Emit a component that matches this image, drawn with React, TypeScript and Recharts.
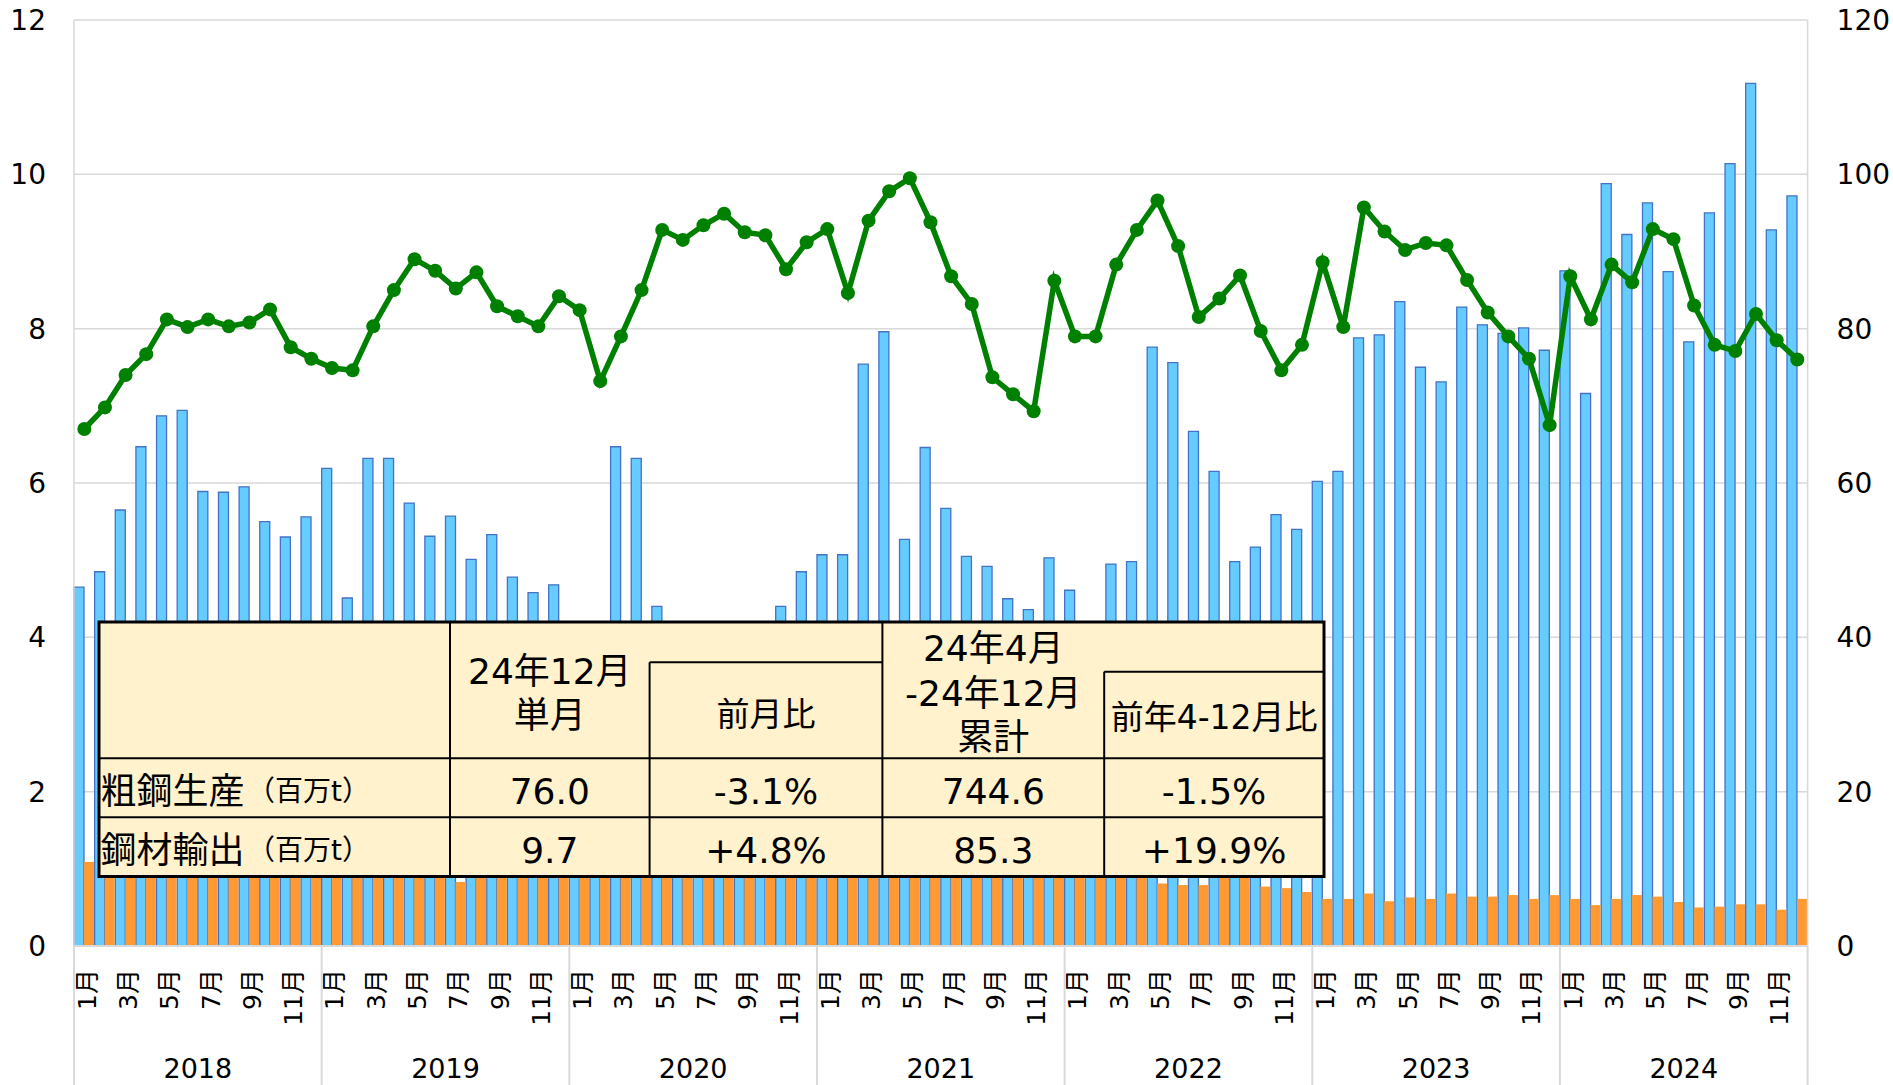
import React from 'react';
import { ComposedChart, Bar, Line, XAxis, YAxis, CartesianGrid } from 'recharts';

const FONT = "'DejaVu Sans', 'Noto Sans CJK JP', sans-serif";

const years = ['2018', '2019', '2020', '2021', '2022', '2023', '2024'];
const months = ['1月', '2月', '3月', '4月', '5月', '6月', '7月', '8月', '9月', '10月', '11月', '12月'];

// 鋼材輸出 (百万t) - left axis, blue bars
const exportsMt = [
  4.65, 4.85, 5.65, 6.47, 6.87, 6.94, 5.89, 5.88, 5.95, 5.50, 5.30, 5.56,
  6.19, 4.51, 6.32, 6.32, 5.74, 5.31, 5.57, 5.01, 5.33, 4.78, 4.58, 4.68,
  4.10, 4.10, 6.47, 6.32, 4.40, 3.70, 3.73, 3.69, 3.79, 3.87, 4.40, 4.85,
  5.07, 5.07, 7.54, 7.96, 5.27, 6.46, 5.67, 5.05, 4.92, 4.50, 4.36, 5.03,
  4.61, 4.10, 4.95, 4.98, 7.76, 7.56, 6.67, 6.15, 4.98, 5.17, 5.59, 5.40,
  6.02, 6.15, 7.88, 7.92, 8.35, 7.50, 7.31, 8.28, 8.05, 7.94, 8.01, 7.72,
  8.75, 7.16, 9.88, 9.22, 9.63, 8.74, 7.83, 9.50, 10.14, 11.18, 9.28, 9.72,
];

// 鋼材輸入 (百万t) - left axis, orange bars
const importsMt = [
  1.09, 1.10, 1.20, 1.15, 1.15, 1.10, 1.20, 1.10, 1.10, 1.00, 1.00, 1.00,
  1.10, 1.10, 1.20, 1.00, 1.05, 1.00, 0.83, 1.00, 1.10, 1.00, 1.15, 1.10,
  1.00, 1.00, 1.00, 1.10, 1.30, 1.90, 2.40, 2.00, 2.20, 1.80, 1.40, 1.40,
  1.30, 1.30, 1.20, 1.30, 1.20, 1.20, 1.20, 1.10, 1.20, 1.10, 1.10, 1.10,
  1.00, 1.00, 1.00, 0.95, 0.81, 0.79, 0.79, 0.92, 0.93, 0.77, 0.75, 0.70,
  0.61, 0.61, 0.68, 0.58, 0.63, 0.61, 0.68, 0.64, 0.64, 0.66, 0.61, 0.66,
  0.61, 0.53, 0.61, 0.66, 0.64, 0.57, 0.50, 0.51, 0.54, 0.54, 0.47, 0.61,
];

// 粗鋼生産 (百万t) - right axis, green line
const productionMt = [
  67.0, 69.8, 74.0, 76.7, 81.2, 80.2, 81.2, 80.3, 80.8, 82.5, 77.6, 76.1,
  74.9, 74.6, 80.3, 85.0, 89.0, 87.5, 85.2, 87.3, 82.9, 81.6, 80.3, 84.2,
  82.4, 73.2, 79.0, 85.0, 92.8, 91.5, 93.4, 94.9, 92.5, 92.1, 87.7, 91.2,
  92.9, 84.6, 94.0, 97.8, 99.5, 93.8, 86.8, 83.2, 73.7, 71.5, 69.3, 86.2,
  79.0, 79.0, 88.3, 92.8, 96.6, 90.7, 81.5, 83.9, 86.9, 79.7, 74.6, 77.9,
  88.6, 80.2, 95.7, 92.6, 90.2, 91.1, 90.8, 86.3, 82.1, 79.0, 76.1, 67.5,
  86.8, 81.2, 88.3, 86.0, 92.9, 91.6, 83.0, 77.9, 77.1, 81.9, 78.5, 76.0,
];

const leftTicks = [0, 2, 4, 6, 8, 10, 12];
const rightTicks = [0, 20, 40, 60, 80, 100, 120];

// summary table
const tableRowLabels = ['粗鋼生産', '鋼材輸出'];
const tableUnit = '（百万t）';
const tableValues = [
  ['76.0', '-3.1%', '744.6', '-1.5%'],
  ['9.7', '+4.8%', '85.3', '+19.9%'],
];

const data = years.flatMap((y, yi) =>
  months.map((m, mi) => {
    const i = yi * 12 + mi;
    return {
      key: `${y}-${mi + 1}`,
      year: y,
      month: m,
      monthNo: mi + 1,
      idx: i,
      exp: exportsMt[i],
      imp: importsMt[i],
      prod: productionMt[i],
    };
  })
);

const GRID = '#D9D9D9';
const AXIS_H = 139;

const MonthTick = (props: any) => {
  const { x, y, payload } = props;
  const d = data.find((r) => r.key === payload.value);
  if (!d) return null;
  const half = payload.offset && payload.offset > 0 ? payload.offset : 10.32;
  const isLast = d.idx === data.length - 1;
  return (
    <g>
      {d.monthNo % 2 === 1 && (
        <text
          transform={`translate(${x + 3},${y + 23}) rotate(-90)`}
          textAnchor="end"
          dominantBaseline="central"
          fontSize={25}
          fill="#000"
          fontFamily={FONT}
        >
          {d.month}
        </text>
      )}
      {d.monthNo === 1 && (
        <line x1={x - half} x2={x - half} y1={y} y2={y + AXIS_H} stroke={GRID} strokeWidth={2} />
      )}
      {isLast && (
        <line x1={x + half} x2={x + half} y1={y} y2={y + AXIS_H} stroke={GRID} strokeWidth={2} />
      )}
      {d.monthNo === 7 && (
        <text
          x={x - half}
          y={y + 122}
          textAnchor="middle"
          dominantBaseline="central"
          fontSize={27}
          fill="#000"
          fontFamily={FONT}
        >
          {d.year}
        </text>
      )}
    </g>
  );
};

const SummaryTable = () => {
  const x0 = 99, x1 = 450, x2 = 649.6, x3 = 882.4, x4 = 1104.2, x5 = 1324;
  const y0 = 622, ySubA = 662.3, ySubB = 671.7, y1 = 758.3, y2 = 817.3, y3 = 876.5;
  const colCenters = [(x1 + x2) / 2, (x2 + x3) / 2, (x3 + x4) / 2, (x4 + x5) / 2];
  const rowCenters = [791.7, 850];
  const inner = { stroke: '#000', strokeWidth: 2 };
  const txt = { fill: '#000', fontFamily: FONT, dominantBaseline: 'central' as const };
  return (
    <svg
      width={1893}
      height={1085}
      style={{ position: 'absolute', left: 0, top: 0, pointerEvents: 'none' }}
    >
      <rect x={x0} y={y0} width={x5 - x0} height={y3 - y0} fill="#FFF2CC" />
      <line x1={x0} x2={x5} y1={y1} y2={y1} {...inner} />
      <line x1={x0} x2={x5} y1={y2} y2={y2} {...inner} />
      <line x1={x1} x2={x1} y1={y0} y2={y3} {...inner} />
      <line x1={x3} x2={x3} y1={y0} y2={y3} {...inner} />
      <line x1={x2} x2={x2} y1={ySubA} y2={y3} {...inner} />
      <line x1={x4} x2={x4} y1={ySubB} y2={y3} {...inner} />
      <line x1={x2} x2={x3} y1={ySubA} y2={ySubA} {...inner} />
      <line x1={x4} x2={x5} y1={ySubB} y2={ySubB} {...inner} />
      <rect x={x0} y={y0} width={x5 - x0} height={y3 - y0} fill="none" stroke="#000" strokeWidth={3} />

      <text x={colCenters[0]} y={671.5} textAnchor="middle" fontSize={36} {...txt}>24年12月</text>
      <text x={colCenters[0]} y={715.5} textAnchor="middle" fontSize={36} {...txt}>単月</text>
      <text x={colCenters[1]} y={714.5} textAnchor="middle" fontSize={33} {...txt}>前月比</text>
      <text x={colCenters[2]} y={648} textAnchor="middle" fontSize={36} {...txt}>24年4月</text>
      <text x={colCenters[2]} y={693} textAnchor="middle" fontSize={36} {...txt}>-24年12月</text>
      <text x={colCenters[2]} y={737.5} textAnchor="middle" fontSize={36} {...txt}>累計</text>
      <text x={colCenters[3]} y={717.5} textAnchor="middle" fontSize={33} {...txt}>前年4-12月比</text>

      {tableRowLabels.map((lab, r) => (
        <g key={lab}>
          <text x={100.5} y={rowCenters[r]} textAnchor="start" fontSize={36} {...txt}>{lab}</text>
          <text x={247} y={rowCenters[r]} textAnchor="start" fontSize={28} {...txt}>{tableUnit}</text>
          {tableValues[r].map((v, c) => (
            <text key={c} x={colCenters[c]} y={rowCenters[r]} textAnchor="middle" fontSize={36} {...txt}>
              {v}
            </text>
          ))}
        </g>
      ))}
    </svg>
  );
};

export default function App() {
  return (
    <div style={{ position: 'absolute', left: 0, top: 0, width: 1893, height: 1085, background: '#fff' }}>
      <ComposedChart
        width={1893}
        height={1085}
        data={data}
        margin={{ top: 20, right: 0, bottom: 0, left: 0 }}
        barCategoryGap={0}
        barGap={0}
      >
        <CartesianGrid vertical={false} stroke={GRID} strokeWidth={1.5} xAxisId="month" yAxisId="left" />
        <XAxis
          xAxisId="month"
          dataKey="key"
          type="category"
          interval={0}
          height={AXIS_H}
          tickSize={0}
          tickMargin={0}
          tickLine={false}
          axisLine={{ stroke: GRID, strokeWidth: 2 }}
          tick={<MonthTick />}
        />
        <YAxis
          yAxisId="left"
          orientation="left"
          width={74}
          domain={[0, 12]}
          ticks={leftTicks}
          interval={0}
          tickSize={0}
          tickMargin={28}
          tickLine={false}
          axisLine={{ stroke: GRID, strokeWidth: 1.5 }}
          tick={{ fontSize: 28, fill: '#000', fontFamily: FONT }}
        />
        <YAxis
          yAxisId="right"
          orientation="right"
          width={85.4}
          domain={[0, 120]}
          ticks={rightTicks}
          interval={0}
          tickSize={0}
          tickMargin={29}
          tickLine={false}
          axisLine={{ stroke: GRID, strokeWidth: 1.5 }}
          tick={{ fontSize: 28, fill: '#000', fontFamily: FONT }}
        />
        <Bar
          xAxisId="month"
          yAxisId="left"
          dataKey="exp"
          fill="#66CCFF"
          stroke="#4472C4"
          strokeWidth={1.3}
          isAnimationActive={false}
        />
        <Bar
          xAxisId="month"
          yAxisId="left"
          dataKey="imp"
          fill="#FF9933"
          isAnimationActive={false}
        />
        <Line
          xAxisId="month"
          yAxisId="right"
          type="linear"
          dataKey="prod"
          stroke="#008000"
          strokeWidth={5.5}
          dot={{ r: 7, fill: '#008000', stroke: '#008000', strokeWidth: 0 }}
          activeDot={false}
          isAnimationActive={false}
        />
      </ComposedChart>
      <SummaryTable />
    </div>
  );
}
